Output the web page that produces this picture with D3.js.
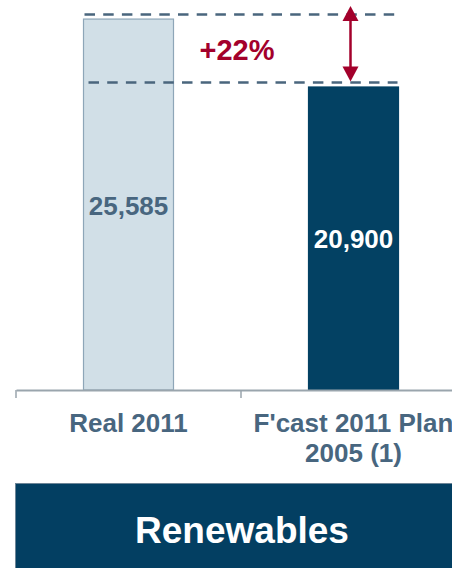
<!DOCTYPE html>
<html>
<head>
<meta charset="utf-8">
<script src="https://cdn.jsdelivr.net/npm/d3@7"></script>
<style>
  html, body { margin: 0; padding: 0; background: #fff; overflow: hidden; }
  svg { display: block; font-family: "Liberation Sans", Arial, sans-serif; }
</style>
</head>
<body>
<svg id="chart" width="452" height="568"></svg>
<script>
// Renewables capacity: actual 2011 vs. 2005 plan forecast
const categories = ["Real 2011", "F'cast 2011 Plan\n2005 (1)"];
const values = [25585, 20900];
const valueLabels = ["25,585", "20,900"];
const deltaLabel = "+22%";
const panelTitle = "Renewables";

const svg = d3.select("#chart");
const baseY = 390;

const x = d3.scaleBand()
  .domain(categories)
  .range([16, 466])
  .paddingInner(0)
  .paddingOuter(0);

const y = d3.scaleLinear()
  .domain([0, 26900])
  .range([baseY, 0]);

const barW = x.bandwidth() * 0.4;
const fills = ["#d1dfe7", "#034163"];
const strokes = ["#8ea6b8", "#034163"];
const labelColors = ["#48667f", "#ffffff"];

// bars
svg.selectAll("rect.bar")
  .data(values)
  .join("rect")
  .attr("class", "bar")
  .attr("x", (d, i) => x(categories[i]) + (x.bandwidth() - barW) / 2)
  .attr("y", d => y(d))
  .attr("width", barW)
  .attr("height", d => baseY - y(d))
  .attr("fill", (d, i) => fills[i])
  .attr("stroke", (d, i) => strokes[i])
  .attr("stroke-width", 1.2);

// value labels inside bars
svg.selectAll("text.val")
  .data(values)
  .join("text")
  .attr("class", "val")
  .attr("x", (d, i) => x(categories[i]) + x.bandwidth() / 2)
  .attr("y", d => (y(d) + baseY) / 2 + 10)
  .attr("text-anchor", "middle")
  .attr("font-weight", "bold")
  .attr("font-size", 26)
  .attr("fill", (d, i) => labelColors[i])
  .text((d, i) => valueLabels[i]);

// category axis
const axis = svg.append("g")
  .attr("transform", `translate(0,${baseY})`)
  .call(d3.axisBottom(x).tickSize(0).tickFormat(""));
axis.select(".domain").attr("stroke", "#9aa5ad").attr("stroke-width", 2);

// band boundary ticks
const bounds = [16, ...categories.map(c => x(c) + x.bandwidth())];
svg.selectAll("line.btick")
  .data(bounds)
  .join("line")
  .attr("class", "btick")
  .attr("x1", d => d).attr("x2", d => d)
  .attr("y1", baseY).attr("y2", baseY + 8)
  .attr("stroke", "#9aa5ad")
  .attr("stroke-width", 1.5);

// category labels (multi-line)
categories.forEach(c => {
  const lines = c.split("\n");
  const t = svg.append("text")
    .attr("x", x(c) + x.bandwidth() / 2)
    .attr("y", 432)
    .attr("text-anchor", "middle")
    .attr("font-weight", "bold")
    .attr("font-size", 26)
    .attr("fill", "#48667f");
  lines.forEach((ln, k) => {
    t.append("tspan")
      .attr("x", x(c) + x.bandwidth() / 2)
      .attr("dy", k === 0 ? 0 : 30)
      .text(ln);
  });
});

// dashed reference lines at each bar's level
const dashColor = "#4a667d";
const left0 = x(categories[0]) + (x.bandwidth() - barW) / 2;
const right1 = x(categories[1]) + (x.bandwidth() + barW) / 2;
[[values[0], left0 + 1, right1 - 4], [values[1], left0 + 5, right1 - 1]].forEach(([v, x1, x2]) => {
  svg.append("line")
    .attr("x1", x1).attr("x2", x2)
    .attr("y1", y(v) - 4.5).attr("y2", y(v) - 4.5)
    .attr("stroke", dashColor)
    .attr("stroke-width", 2.6)
    .attr("stroke-dasharray", "10.5,8.2");
});

// double-headed arrow showing the gap
const arrowColor = "#a3002b";
const ax = x(categories[1]) + x.bandwidth() / 2 - 3;
const yTop = y(values[0]) - 13;
const yBot = y(values[1]) - 5.5;
const headL = 15, headW = 8;
svg.append("line")
  .attr("x1", ax).attr("x2", ax)
  .attr("y1", yTop + headL - 1).attr("y2", yBot - headL + 1)
  .attr("stroke", arrowColor).attr("stroke-width", 2.5);
svg.append("path")
  .attr("d", `M${ax},${yTop} L${ax - headW},${yTop + headL} L${ax + headW},${yTop + headL} Z`)
  .attr("fill", arrowColor);
svg.append("path")
  .attr("d", `M${ax},${yBot} L${ax - headW},${yBot - headL} L${ax + headW},${yBot - headL} Z`)
  .attr("fill", arrowColor);

svg.append("text")
  .attr("x", 237)
  .attr("y", 60)
  .attr("text-anchor", "middle")
  .attr("font-weight", "bold")
  .attr("font-size", 29)
  .attr("fill", arrowColor)
  .text(deltaLabel);

// panel title box
svg.append("rect")
  .attr("x", 15.5).attr("y", 483.5)
  .attr("width", 460).attr("height", 100)
  .attr("fill", "#033f62")
  .attr("stroke", "#6d8597")
  .attr("stroke-width", 1);
svg.append("text")
  .attr("x", 242)
  .attr("y", 543)
  .attr("text-anchor", "middle")
  .attr("font-weight", "bold")
  .attr("font-size", 37)
  .attr("fill", "#ffffff")
  .text(panelTitle);
</script>
</body>
</html>
